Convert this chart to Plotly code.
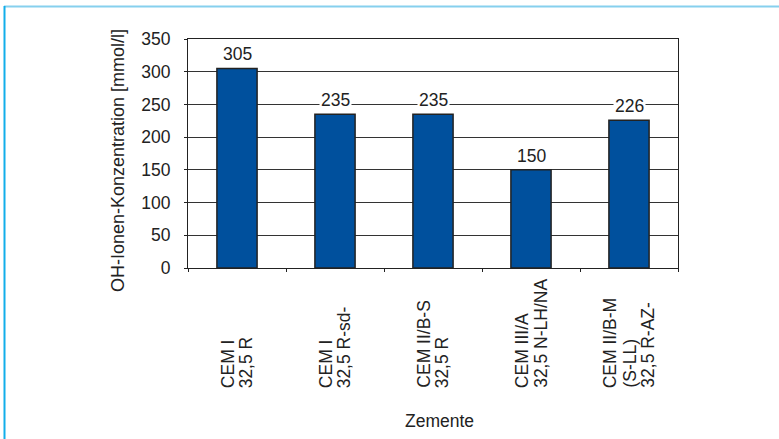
import plotly.graph_objects as go

# OH- ion concentration of pore solution per cement type
categories = ["CEM I 32,5 R", "CEM I 32,5 R-sd-", "CEM II/B-S 32,5 R",
              "CEM III/A 32,5 N-LH/NA", "CEM II/B-M (S-LL) 32,5 R-AZ-"]
tick_lines = [["CEM I", "32,5 R"], ["CEM I", "32,5 R-sd-"], ["CEM II/B-S", "32,5 R"],
              ["CEM III/A", "32,5 N-LH/NA"], ["CEM II/B-M", "(S-LL)", "32,5 R-AZ-"]]
values = [305, 235, 235, 150, 226]
y_ticks = [0, 50, 100, 150, 200, 250, 300, 350]

W, H = 779, 439
L, R, T, B = 188, 101, 39, 171
pw, ph = W - L - R, H - T - B

FONT = "Liberation Sans, Arial, sans-serif"
INK = "#222222"
FS = 17.5
LINE_GAP = 18.7

def px_x(p):
    return (p - L) / pw

def px_y(p):
    return (H - B - p) / ph

fig = go.Figure(go.Bar(
    x=categories, y=values,
    marker=dict(color="#00509d", line=dict(color=INK, width=1.5)),
    width=0.41,
    hoverinfo="x+y",
))

annotations = []
for c, v in zip(categories, values):
    annotations.append(dict(
        x=c, y=v, xref="x", yref="y", text=str(v), showarrow=False,
        yanchor="bottom", yshift=2, bgcolor="white", borderpad=1,
        font=dict(family=FONT, size=FS, color=INK),
    ))
# rotated category labels, one annotation per line so the line pitch is fixed
for c, lines in zip(categories, tick_lines):
    n = len(lines)
    for i, t in enumerate(lines):
        annotations.append(dict(
            x=c, y=px_y(390), xref="x", yref="paper", text=t, showarrow=False,
            textangle=-90, xanchor="center", yanchor="bottom",
            xshift=(i - (n - 1) / 2) * LINE_GAP,
            font=dict(family=FONT, size=FS, color=INK),
        ))
annotations.append(dict(
    x=px_x(118), y=px_y(161), xref="paper", yref="paper",
    text="OH-Ionen-Konzentration [mmol/l]", showarrow=False, textangle=-90,
    xanchor="center", yanchor="middle",
    font=dict(family=FONT, size=18, color=INK),
))
annotations.append(dict(
    x=px_x(439), y=px_y(421), xref="paper", yref="paper",
    text="Zemente", showarrow=False, xanchor="center", yanchor="middle",
    font=dict(family=FONT, size=FS, color=INK),
))

shapes = [
    # light frame lines along the top and left edges of the page
    dict(type="line", xref="paper", yref="paper", x0=px_x(4), x1=px_x(W),
         y0=px_y(6.5), y1=px_y(6.5), line=dict(color="#86d0ee", width=2)),
    dict(type="line", xref="paper", yref="paper", x0=px_x(4.5), x1=px_x(4.5),
         y0=px_y(6), y1=px_y(H), line=dict(color="#12aeea", width=2)),
]

fig.update_layout(
    width=W, height=H,
    margin=dict(l=L, r=R, t=T, b=B, pad=0),
    paper_bgcolor="white", plot_bgcolor="white",
    showlegend=False,
    bargap=0.59,
    annotations=annotations,
    shapes=shapes,
    font=dict(family=FONT, size=FS, color=INK),
    xaxis=dict(
        type="category", showticklabels=False, tickson="boundaries",
        ticks="outside", ticklen=3, tickcolor=INK, tickwidth=1,
        showline=True, linecolor=INK, linewidth=1, mirror=True,
        showgrid=False, zeroline=False, fixedrange=True,
    ),
    yaxis=dict(
        range=[0, 350], tickvals=y_ticks, ticks="outside", ticklen=3,
        tickcolor=INK, tickwidth=1, ticklabelstandoff=10,
        tickfont=dict(family=FONT, size=FS, color=INK),
        showline=True, linecolor=INK, linewidth=1, mirror=True,
        showgrid=True, gridcolor="#333333", gridwidth=1,
        zeroline=False, fixedrange=True,
    ),
)

fig.write_html("out.html")
